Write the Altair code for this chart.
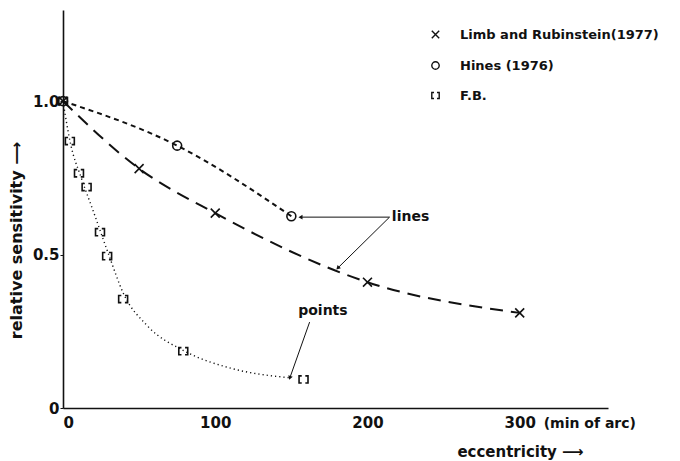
import altair as alt
import pandas as pd

# ---- data ----
limb_x = [0, 50, 100, 200, 300]
limb_y = [1.0, 0.78, 0.635, 0.41, 0.31]

hines_x = [0, 75, 150]
hines_y = [1.0, 0.855, 0.625]

fb_x = [0, 4.5, 10.5, 15.5, 24.3, 29, 39.5, 79, 158]
fb_y = [1.0, 0.87, 0.765, 0.72, 0.573, 0.495, 0.355, 0.185, 0.093]

# dotted fitted curve through the F.B. points
fbc_x = [0, 5, 12, 20, 30, 40, 55, 80, 110, 150]
fbc_y = [1.0, 0.86, 0.75, 0.64, 0.50, 0.37, 0.27, 0.185, 0.13, 0.098]

series = ["Limb and Rubinstein(1977)", "Hines (1976)", "F.B."]

# annotation pointers: (x, y) of label-side vertex and arrow tips
lines_label = (216, 0.622)
lines_vertex = (214.5, 0.622)
lines_tips = [(156, 0.622), (180.5, 0.456)]
points_label = (154.5, 0.316)
points_vertex = (162, 0.28)
points_tip = (149, 0.098)

x_ticks = [0, 100, 200, 300]
y_ticks = [0, 0.5, 1.0]

FONT = "DejaVu Sans"
INK = "#111111"

xs = alt.Scale(domain=[0, 358], nice=False, zero=False)
ys = alt.Scale(domain=[0, 1.297], nice=False, zero=False)

pts = pd.DataFrame(
    [{"x": a, "y": b, "s": series[0]} for a, b in zip(limb_x, limb_y)]
    + [{"x": a, "y": b, "s": series[1]} for a, b in zip(hines_x, hines_y)]
    + [{"x": a, "y": b, "s": series[2]} for a, b in zip(fb_x, fb_y)]
)

limb_df = pd.DataFrame({"x": limb_x, "y": limb_y})
hines_df = pd.DataFrame({"x": hines_x, "y": hines_y})
fbc_df = pd.DataFrame({"x": fbc_x, "y": fbc_y})

X = alt.X("x:Q", scale=xs, axis=alt.Axis(
    values=x_ticks, title="eccentricity  ⟶", grid=False, tickSize=0,
    labelFont=FONT, labelFontWeight="bold", labelFontSize=15, labelColor=INK,
    labelPadding=7, domainColor=INK, domainWidth=1.6,
    titleFont=FONT, titleFontWeight="bold", titleFontSize=15, titleColor=INK,
    titleX=457, titleY=43, titleAlign="center", titleBaseline="middle"))
Y = alt.Y("y:Q", scale=ys, axis=alt.Axis(
    values=y_ticks, title="relative   sensitivity   ⟶", grid=False, tickSize=3,
    tickColor=INK, labelExpr="datum.value == 0 ? '0' : format(datum.value, '.1f')",
    labelFont=FONT, labelFontWeight="bold", labelFontSize=15, labelColor=INK,
    labelPadding=1, domainColor=INK, domainWidth=1.6,
    titleFont=FONT, titleFontWeight="bold", titleFontSize=16, titleColor=INK,
    titleX=-47, titleY=230, titleAngle=-90, titleAlign="center", titleBaseline="middle"))

limb_line = alt.Chart(limb_df).mark_line(
    color=INK, strokeWidth=2, strokeDash=[13, 8], interpolate="monotone"
).encode(x=X, y=Y)
hines_line = alt.Chart(hines_df).mark_line(
    color=INK, strokeWidth=2, strokeDash=[5, 4], interpolate="monotone"
).encode(x="x:Q", y="y:Q")
fb_line = alt.Chart(fbc_df).mark_line(
    color=INK, strokeWidth=1.4, strokeDash=[1.2, 3], interpolate="monotone"
).encode(x="x:Q", y="y:Q")

x_path = "M-1,-1L1,1M-1,1L1,-1"
br_path = "M-0.4,-0.8L-1,-0.8L-1,0.8L-0.4,0.8M0.4,-0.8L1,-0.8L1,0.8L0.4,0.8"

markers = alt.Chart(pts).mark_point(filled=False, strokeWidth=1.6, size=80, opacity=1).encode(
    x="x:Q", y="y:Q",
    shape=alt.Shape("s:N", scale=alt.Scale(domain=series, range=[x_path, "circle", br_path]),
                    legend=alt.Legend(
                        title=None, orient="none", legendX=366, legendY=18,
                        labelFont=FONT, labelFontWeight="bold", labelFontSize=13,
                        labelColor=INK, labelOffset=18, rowPadding=16, padding=0,
                        labelLimit=0,
                        symbolStrokeColor=INK, symbolStrokeWidth=1.4, symbolSize=55,
                        symbolFillColor="transparent")),
    color=alt.value(INK),
)

# annotation pointer lines
seg_rows = []
for i, tip in enumerate(lines_tips):
    seg_rows.append({"g": f"l{i}", "x": lines_vertex[0], "y": lines_vertex[1]})
    seg_rows.append({"g": f"l{i}", "x": tip[0], "y": tip[1]})
seg_rows.append({"g": "p", "x": points_vertex[0], "y": points_vertex[1]})
seg_rows.append({"g": "p", "x": points_tip[0], "y": points_tip[1]})
seg_df = pd.DataFrame(seg_rows)
pointers = alt.Chart(seg_df).mark_line(color=INK, strokeWidth=1).encode(
    x="x:Q", y="y:Q", detail="g:N")

heads_df = pd.DataFrame({
    "x": [lines_tips[0][0], lines_tips[1][0], points_tip[0]],
    "y": [lines_tips[0][1], lines_tips[1][1], points_tip[1]],
    "a": [270, 225, 200],
})
heads = alt.Chart(heads_df).mark_point(shape="triangle-up", filled=True, size=22, color=INK, opacity=1).encode(
    x="x:Q", y="y:Q", angle=alt.Angle("a:Q", scale=None))

text_df = pd.DataFrame({
    "x": [lines_label[0], points_label[0]],
    "y": [lines_label[1], points_label[1]],
    "t": ["lines", "points"],
})
texts = alt.Chart(text_df).mark_text(
    font=FONT, fontWeight="bold", fontSize=14, color=INK, align="left", baseline="middle"
).encode(x="x:Q", y="y:Q", text="t:N")

unit_df = pd.DataFrame({"x": [300], "y": [0], "t": ["(min of arc)"]})
unit = alt.Chart(unit_df).mark_text(
    font=FONT, fontSize=14, fontWeight="bold", color=INK, align="left", baseline="middle", dx=24, dy=16
).encode(x="x:Q", y="y:Q", text="t:N")

chart = alt.layer(limb_line, hines_line, fb_line, pointers, heads, markers, texts, unit).properties(
    width=545, height=398,
    autosize=alt.AutoSizeParams(type="none"),
    padding={"left": 63, "top": 10, "right": 72, "bottom": 53},
    background="white",
).configure_view(stroke=None)

chart.save("out.html", embed_options={"renderer": "svg", "actions": False})
